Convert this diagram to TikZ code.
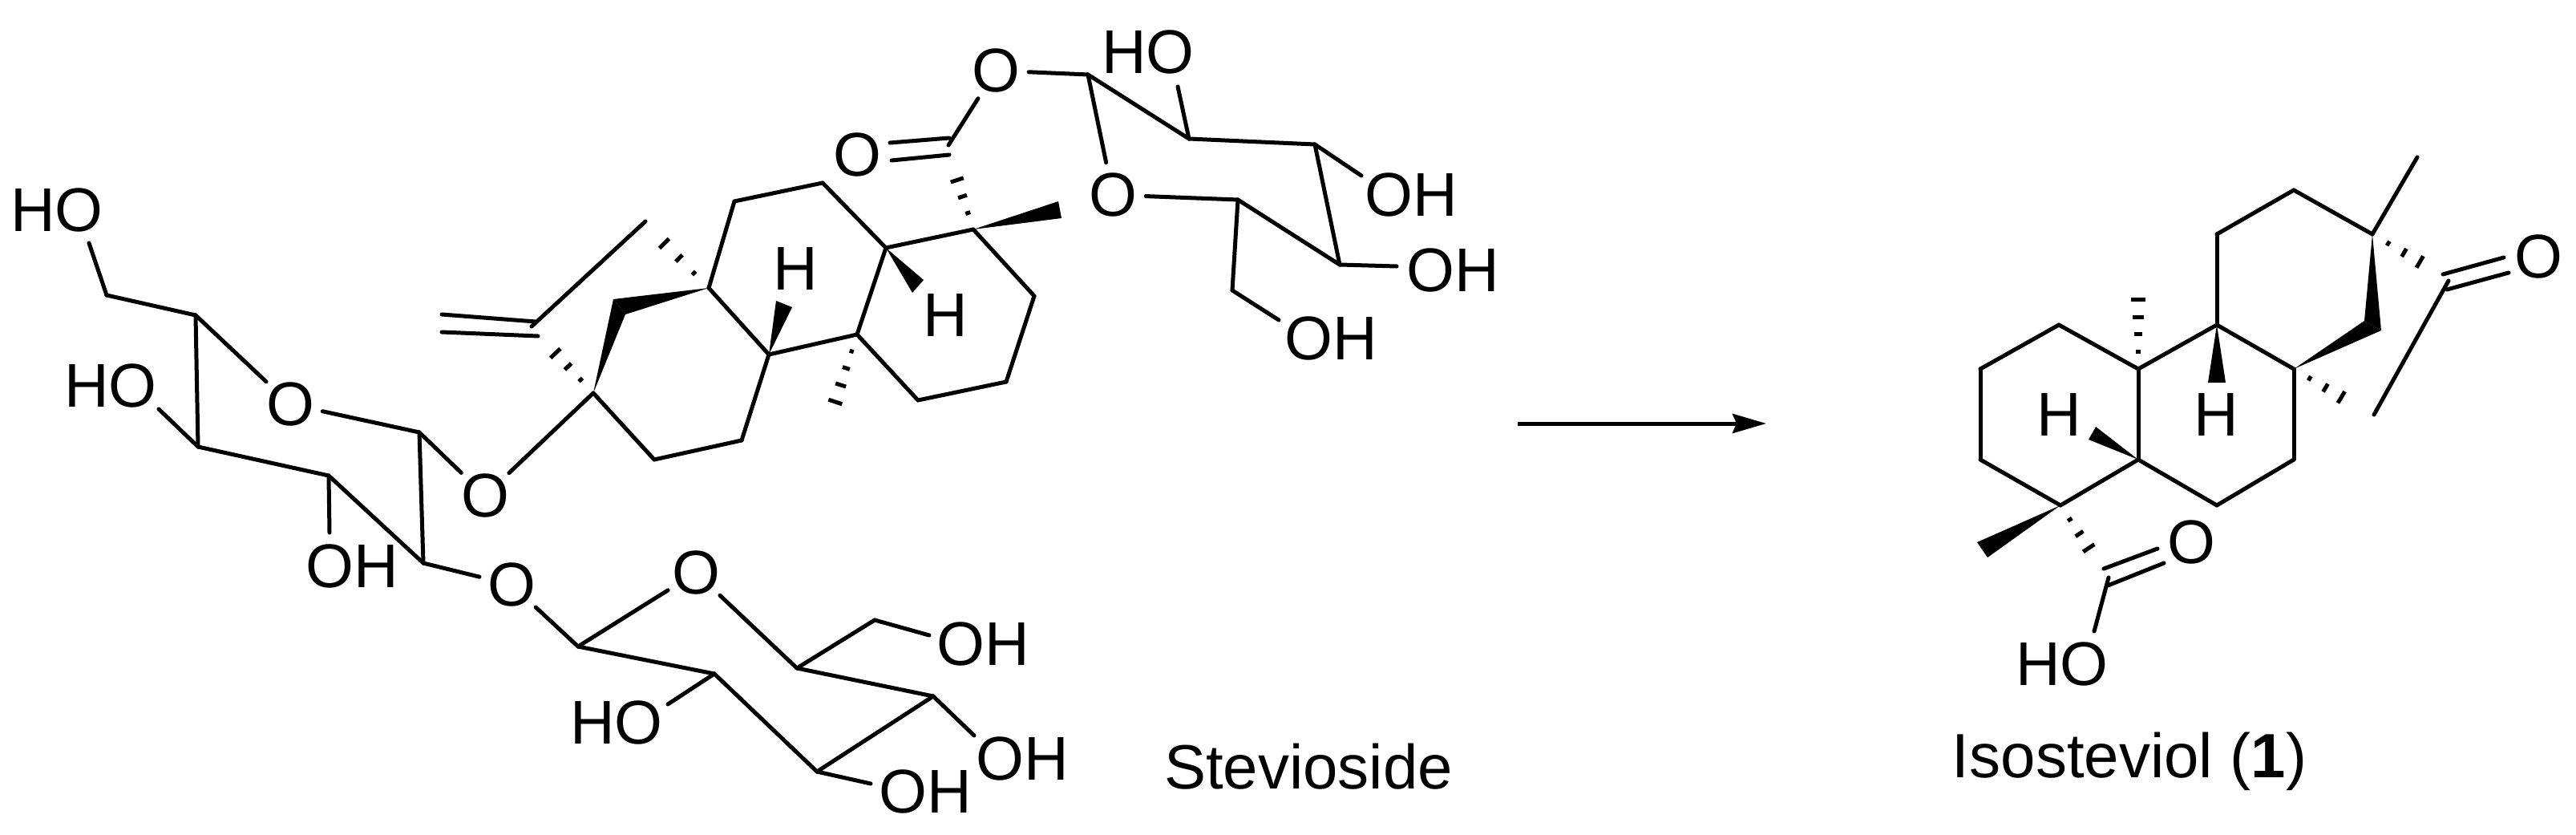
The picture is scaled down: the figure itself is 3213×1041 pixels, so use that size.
\documentclass[tikz,border=0pt]{standalone}
\usepackage{fontspec}
\setmainfont{Liberation Sans}
\usetikzlibrary{calc}
\usetikzlibrary{arrows.meta}
\newcommand{\wedgebond}[3]{\fill[black] (#1) -- (#2) -- (#3) -- cycle;}
\newcommand{\hashbond}[3]{
    \foreach \i in {1,...,#3} {
        \pgfmathsetmacro{\t}{\i/#3}
        \pgfmathsetmacro{\w}{0.5+\t*10.5}
        \draw[hash] ($(#1)!\t!(#2)!\w pt!90:(#2)$) -- ($(#1)!\t!(#2)!\w pt!-90:(#2)$);
    }
}
\begin{document}
\begin{tikzpicture}[x=1pt, y=-1pt,
        bond/.style={black, line width=5pt, line cap=round},
        hash/.style={black, line width=5pt},
        oxy/.style={circle, inner sep=0pt, minimum size=82pt, font=\fontsize{77}{77}\selectfont},
        atom/.style={inner sep=0pt, font=\fontsize{77}{77}\selectfont},
        caption/.style={inner sep=0pt, anchor=base, font=\fontsize{78}{78}\selectfont}]
    \useasboundingbox (0,0) rectangle (3213,1041);

    \foreach \n/\x/\y in {
        a6/133/368, a6s/111/303, a5/244/393, a4/247/557, a4s/198/510, a3/410/593, a3s/411/664, a2/528/702, a1/523/539,
        b1/721/806, b5/994/833, b6/1091/773, b6s/1159/792, b4/1164/868, b4s/1215/917, b3/1019/962, b3s/1086/977, b2/891/840, b2s/833/878,
        k1/884/359, k2/916/251, k3/1026/228, k4/1105/309, k5/1069/417, k6/959/442, k7/925/549, k8/816/573, k9/740/490,
        k10/1214/286, k11/1290/369, k12/1255/476, k13/1145/499,
        wa/765/373, wb/780/392, br/805/276, brs/663/407, ea/551/392, eb/668/401, ec/551/414, ed/671/419,
        ha/810/285, hb/677/424, hc/1187/204, hd/1035/522,
        ma/968/375, mb/988/383, mc/1152/349, md/1138/365, me/1320/251, mf/1324/272,
        co/1183/181, da/1110/178, db/1184/172, dc/1112/200, dd/1184/193,
        r1/1357/93, r2/1483/173, r2s/1469/108, r3/1640/180, r3s/1698/219, r4/1671/330, r4s/1742/332, r5/1544/249, r6/1537/362, r6s/1595/399,
        i1/2765/292, i2/2861/237, i3/2959/292, i4/2765/405, i5/2861/460, i6/2861/573, i7/2765/630, i8/2667/573, i9/2667/460,
        i10/2568/405, i11/2470/460, i12/2470/573, i13/2570/630, i14/3015/196,
        ja/2949/400, jb/2970/412, jc/2754/477, jd/2776/477, je/2614/532, jf/2605/548, jg/2466/676, jh/2479/695,
        la/3038/338, lb/2940/507, lc/2667/352, ld/2617/701,
        ke/3054/350, kf/2961/517, na/3047/342, nb/3123/321, nc/3052/361, nd/3129/340,
        ac/2630/720, acs/2612/787, pa/2624/709, pb/2691/684, pc/2629/730, pd/2699/702,
        arrL/1893/528, arrR/2203/528}
        \coordinate (\n) at (\x,\y);

    \node[atom] (aHO) at (71,262) {HO};
    \node[atom] (a4HO) at (138,481) {HO};
    \node[atom] (a3OH) at (439,706) {OH};
    \node[oxy] (aO) at (362,504) {O};
    \node[oxy] (gO) at (605,618) {O};
    \node[oxy] (lO) at (638,729) {O};
    \node[oxy] (bO) at (868,714) {O};
    \node[atom] (b6OH) at (1226,803) {OH};
    \node[atom] (b4OH) at (1275,946) {OH};
    \node[atom] (b3OH) at (1154,987) {OH};
    \node[atom] (b2HO) at (769,901) {HO};
    \node[oxy] (eO) at (1242,88) {O};
    \node[oxy] (cO) at (1069,193) {O};
    \node[oxy] (rO) at (1388,243) {O};
    \node[atom] (r2HO) at (1432,65) {HO};
    \node[atom] (r3OH) at (1760,243) {OH};
    \node[atom] (r4OH) at (1812,337) {OH};
    \node[atom] (r6OH) at (1660,422) {OH};
    \node[atom] (kH1) at (992,335) {H};
    \node[atom] (kH2) at (1179,393) {H};
    \node[atom] (iH1) at (2568,517) {H};
    \node[atom] (iH2) at (2764,517) {H};
    \node[oxy] (keO) at (3166,320) {O};
    \node[oxy] (acO) at (2733,676) {O};
    \node[atom] (acHO) at (2572,828) {HO};
    \node[caption] (stev) at (1632,983) {Stevioside};
    \node[caption] (iso) at (2656,969) {Isosteviol (\textbf{1})};

    \foreach \a/\b in {
        a6/a6s, a6/a5, a5/aO, aO/a1, a1/a2, a2/a3, a3/a4, a4/a5, a4/a4s, a3/a3s, a1/gO, gO/k9, a2/lO,
        lO/b1, b1/bO, bO/b5, b5/b6, b6/b6s, b5/b4, b4/b4s, b4/b3, b3/b3s, b3/b2, b2/b1, b2/b2s,
        k1/k2, k2/k3, k3/k4, k4/k5, k5/k6, k6/k1, k6/k7, k7/k8, k8/k9, k4/k10, k10/k11, k11/k12, k12/k13, k13/k5,
        brs/br, ea/eb, ec/ed, co/eO, da/db, dc/dd, eO/r1, r1/rO, rO/r5, r1/r2, r2/r2s, r2/r3, r3/r3s, r3/r4, r4/r4s, r4/r5, r5/r6, r6/r6s,
        i1/i2, i2/i3, i1/i4, i4/i5, i5/i6, i6/i7, i7/i8, i8/i9, i9/i4, i9/i10, i10/i11, i11/i12, i12/i13, i13/i8, i3/i14,
        ke/kf, na/nb, nc/nd, ac/acs, pa/pb, pc/pd}
        \draw[bond] (\a) -- (\b);

    \wedgebond{k9}{wa}{wb}
    \wedgebond{k1}{wa}{wb}
    \wedgebond{k6}{ma}{mb}
    \wedgebond{k4}{mc}{md}
    \wedgebond{k10}{me}{mf}
    \wedgebond{i3}{ja}{jb}
    \wedgebond{i5}{ja}{jb}
    \wedgebond{i4}{jc}{jd}
    \wedgebond{i8}{je}{jf}
    \wedgebond{i13}{jg}{jh}

    \hashbond{k1}{ha}{4}
    \hashbond{k9}{hb}{4}
    \hashbond{k10}{hc}{4}
    \hashbond{k5}{hd}{5}
    \hashbond{i3}{la}{4}
    \hashbond{i5}{lb}{4}
    \hashbond{i9}{lc}{5}
    \hashbond{i13}{ld}{4}

    \draw[black, line width=5pt, -{Stealth[length=42pt, width=24pt, inset=5pt]}] (arrL) -- (arrR);
\end{tikzpicture}
\end{document}
